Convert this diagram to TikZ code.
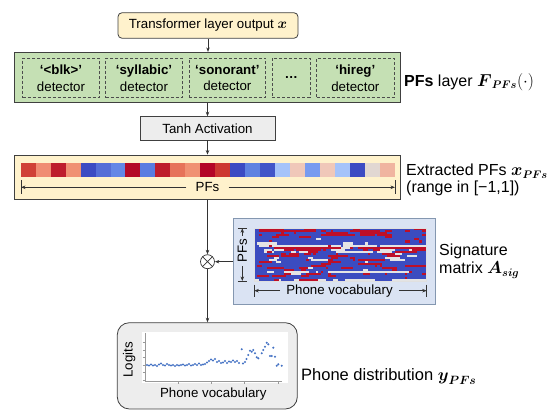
\documentclass[tikz,border=0pt]{standalone}
\usepackage{amsmath,amsfonts,amssymb}
\usepackage{fontspec}
\setmainfont{Liberation Sans}
\usepackage{tikz}
\usetikzlibrary{arrows.meta}

\begin{document}
\begin{tikzpicture}[x=1pt,y=-1pt,
  box/.style={draw=black!75,line width=0.8pt,inner sep=0pt},
  detbox/.style={draw=black!70,dash pattern=on 3pt off 2pt,line width=0.7pt,inner sep=0pt,minimum height=39.4pt,align=center,font=\fontsize{13.3}{16.5}\selectfont},
  arr/.style={-{Stealth[length=4.5pt,width=3.5pt]},line width=0.7pt,black!80},
  bar/.style={line width=0.7pt,black!80},
  lbl/.style={font=\fontsize{16}{16.6}\selectfont,anchor=west,align=left,inner sep=0pt},
  txt/.style={font=\fontsize{13.3}{15}\selectfont,inner sep=0pt}]
% Define colours
\definecolor{inyellow}{RGB}{255,242,204}
\definecolor{pfgreen}{RGB}{197,224,180}
\definecolor{tanhgray}{RGB}{237,237,237}
\definecolor{sigblue}{RGB}{218,227,243}
\definecolor{sigedge}{RGB}{132,151,176}
\definecolor{phgray}{RGB}{237,237,237}
\definecolor{matblue}{RGB}{59,76,192}
\definecolor{matred}{RGB}{190,15,40}
\definecolor{matwhite}{RGB}{228,228,228}
\definecolor{dotblue}{RGB}{68,114,196}

\useasboundingbox (0,0) rectangle (550,417);

% Input and PFs layer
\node[box,rounded corners=4pt,fill=inyellow,minimum width=180pt,minimum height=25.5pt,txt] (inp) at (208,25.5) {Transformer layer output $\boldsymbol{x}$};
\node[box,fill=pfgreen,minimum width=385.7pt,minimum height=50pt] (pfl) at (207.15,77.3) {};
\foreach \cx/\w/\lab [count=\i] in {61/76.6/{\textbf{‘<blk>’}\\detector},
    144/76.6/{\textbf{‘syllabic’}\\detector},
    227.3/76.7/{\textbf{‘sonorant’}\\detector},
    291.2/37.7/{\textbf{…}},
    355.3/77.3/{\textbf{‘hireg’}\\detector}}
  \node[detbox,minimum width=\w pt] (det\i) at (\cx,78) {\lab};
\node[lbl] (pfllbl) at (404,81.7) {\textbf{PFs} layer $\boldsymbol{F}_{\boldsymbol{PFs}}(\cdot)$};

% Tanh and extracted PFs
\node[box,fill=tanhgray,minimum width=135pt,minimum height=23.3pt,txt] (tanh) at (207.5,128.3) {Tanh Activation};
\node[box,fill=inyellow,minimum width=385.3pt,minimum height=44.3pt] (ext) at (207.35,177.15) {};
\foreach \cR/\cG/\cB [count=\i from 0] in {208/65/55,240/140/115,190/30/45,240/145/115,60/75/195,
    85/110/215,100/135/230,180/10/40,90/125/225,190/30/45,230/115/90,240/145/115,180/5/40,
    205/55/50,60/75/195,95/130/225,65/85/200,165/195/250,240/200/185,120/155/240,240/200/185,
    165/195/250,60/75/195,225/215/210,240/180/160}{
  \definecolor{cellc}{RGB}{\cR,\cG,\cB}
  \fill[cellc] ({20.7+\i*14.97},163.3) rectangle ++(15.1,13.4);
}
\coordinate (pfsL) at (21,187.3);
\coordinate (pfsR) at (395,187.3);
\draw[bar] ([yshift=7pt]pfsL) -- ([yshift=-7pt]pfsL);
\draw[bar] ([yshift=7pt]pfsR) -- ([yshift=-7pt]pfsR);
\node[txt,fill=inyellow,inner xsep=9pt] (pfslbl) at (207.5,187.3) {PFs};
\draw[arr] (pfslbl) -- (pfsL);
\draw[arr] (pfslbl) -- (pfsR);
\node[lbl] (extlbl) at (406,180) {Extracted PFs $\boldsymbol{x}_{\boldsymbol{PFs}}$\\(range in [−1,1])};

% Signature matrix
\node[box,draw=sigedge,fill=sigblue,minimum width=201.7pt,minimum height=86pt] (sig) at (334.15,261) {};
\fill[matblue] (254.3,228.3) rectangle (426.7,281);
\pgfmathsetseed{11}
\foreach \pr/\pw [count=\r from 0] in {0.50/0.00,0.45/0.00,0.40/0.01,0.35/0.01,0.30/0.02,0.12/0.04,
    0.06/0.03,0.05/0.04,0.03/0.88,0.70/0.02,0.40/0.12,0.25/0.20,0.35/0.08,0.25/0.05,0.20/0.04,
    0.25/0.04,0.15/0.05,0.22/0.03,0.22/0.04,0.18/0.05,0.15/0.03,0.10/0.70,0.28/0.03,0.22/0.04,
    0.12/0.04,0.04/0.85}{
  \xdef\cst{0}
  \foreach \c in {0,...,69}{
    \pgfmathsetmacro{\u}{rnd}
    \ifdim\u pt>0.65pt
      \pgfmathsetmacro{\w}{rnd}
      \pgfmathsetmacro{\q}{\pr+\pw}
      \ifdim\w pt<\pr pt \xdef\cst{1}\else\ifdim\w pt<\q pt \xdef\cst{2}\else\xdef\cst{0}\fi\fi
    \fi
    \ifnum\cst=1 \fill[matred] ({254.3+\c*2.463},{228.3+\r*2.027}) rectangle ++(2.5,2.06);\fi
    \ifnum\cst=2 \fill[matwhite] ({254.3+\c*2.463},{228.3+\r*2.027}) rectangle ++(2.5,2.06);\fi
  }
}
\draw[black!12,line width=0.6pt] (254.3,228.3) rectangle (426.7,281);
\coordinate (vT) at (242.3,228.3);
\coordinate (vB) at (242.3,281);
\draw[bar] ([xshift=-4.5pt]vT) -- ([xshift=4.5pt]vT);
\draw[bar] ([xshift=-4.5pt]vB) -- ([xshift=4.5pt]vB);
\node[txt,fill=sigblue,rotate=90,inner xsep=3pt] (vlbl) at (242.3,251) {PFs};
\draw[arr] (vlbl) -- (vT);
\draw[arr] (vlbl) -- (vB);
\coordinate (hL) at (254.3,290.7);
\coordinate (hR) at (426.7,290.7);
\draw[bar] ([yshift=6pt]hL) -- ([yshift=-6pt]hL);
\draw[bar] ([yshift=6pt]hR) -- ([yshift=-6pt]hR);
\node[txt,fill=sigblue,inner xsep=6pt] (hlbl) at (339.5,290.7) {Phone vocabulary};
\draw[arr] (hlbl) -- (hL);
\draw[arr] (hlbl) -- (hR);
\node[lbl,font=\fontsize{16}{18.3}\selectfont] (siglbl) at (439,261) {Signature\\matrix $\boldsymbol{A}_{\boldsymbol{sig}}$};

% Multiplication
\node[draw=black!80,circle,minimum size=14pt,inner sep=0pt,line width=0.7pt,fill=white] (mul) at (207.5,261.7) {};
\draw[line width=0.7pt,black!80] (mul.north west) -- (mul.south east) (mul.north east) -- (mul.south west);

% Phone distribution
\node[box,rounded corners=12pt,fill=phgray,minimum width=180pt,minimum height=86.3pt] (phone) at (207.3,365.85) {};
\fill[white] (141.7,331.7) rectangle (288.3,383.3);
\draw[black!40,line width=0.5pt] (145,333) -- (145,381.7) -- (281.7,381.7);
\foreach \ty in {342.7,350,357.3,365,372.7,380}
  \draw[black!40,line width=0.5pt] (142.5,\ty) -- (145,\ty);
\foreach \tx in {178.3,211,244,278.3}
  \draw[black!40,line width=0.5pt] (\tx,381.7) -- (\tx,384.2);
\foreach \px/\py in {147/365,149/365.5,151/364.5,153/365.5,155/365,157/366,159/364.5,161/363.5,
    163/365,165/365.5,167/364,169/365,171/365.5,173/365,175/366,177/365,179/365.5,181/365,
    183/364.5,185/365.5,187/365,189/364,191/365.5,193/365,195/364,197/365,199/363.5,201/365,
    203/364.5,205/364,207/362.5,209/361,211/359.5,213/360.5,215/359,217/362,219/361,221/363,
    223/362.5,225/361,227/363,229/361.5,231/362,233/360.5,235/362,237/361,239/363,241.7/349.3,
    243/363.5,245/362,246.5/359,248.3/355,250/350.7,251.7/351.7,253.3/350,255/353.3,256.7/357.3,
    258.3/358.3,261.7/353.3,263.3/350,265/346.7,266.7/342.7,268.3/344.3,270/356,271.7/356,
    273.3/347.7,275/356.7,276.7/365.7,278.3/364.3,281.7/365.7}
  \fill[dotblue] (\px,\py) circle (1.15pt);
\node[txt,rotate=90] (logits) at (129.3,360) {Logits};
\node[txt] (phvoc) at (213.3,394.3) {Phone vocabulary};
\node[lbl,font=\fontsize{16.5}{18}\selectfont] (phlbl) at (301,376.7) {Phone distribution $\boldsymbol{y}_{\boldsymbol{PFs}}$};

% Connections
\draw[arr] (inp.south) -- (inp.south |- pfl.north);
\draw[arr] (tanh.north |- pfl.south) -- (tanh.north);
\draw[arr] (tanh.south) -- (tanh.south |- ext.north);
\draw[arr] (mul.north |- ext.south) -- (mul.north);
\draw[arr] (sig.west |- mul.east) -- (mul.east);
\draw[arr] (mul.south) -- (mul.south |- phone.north);
\end{tikzpicture}
\end{document}
